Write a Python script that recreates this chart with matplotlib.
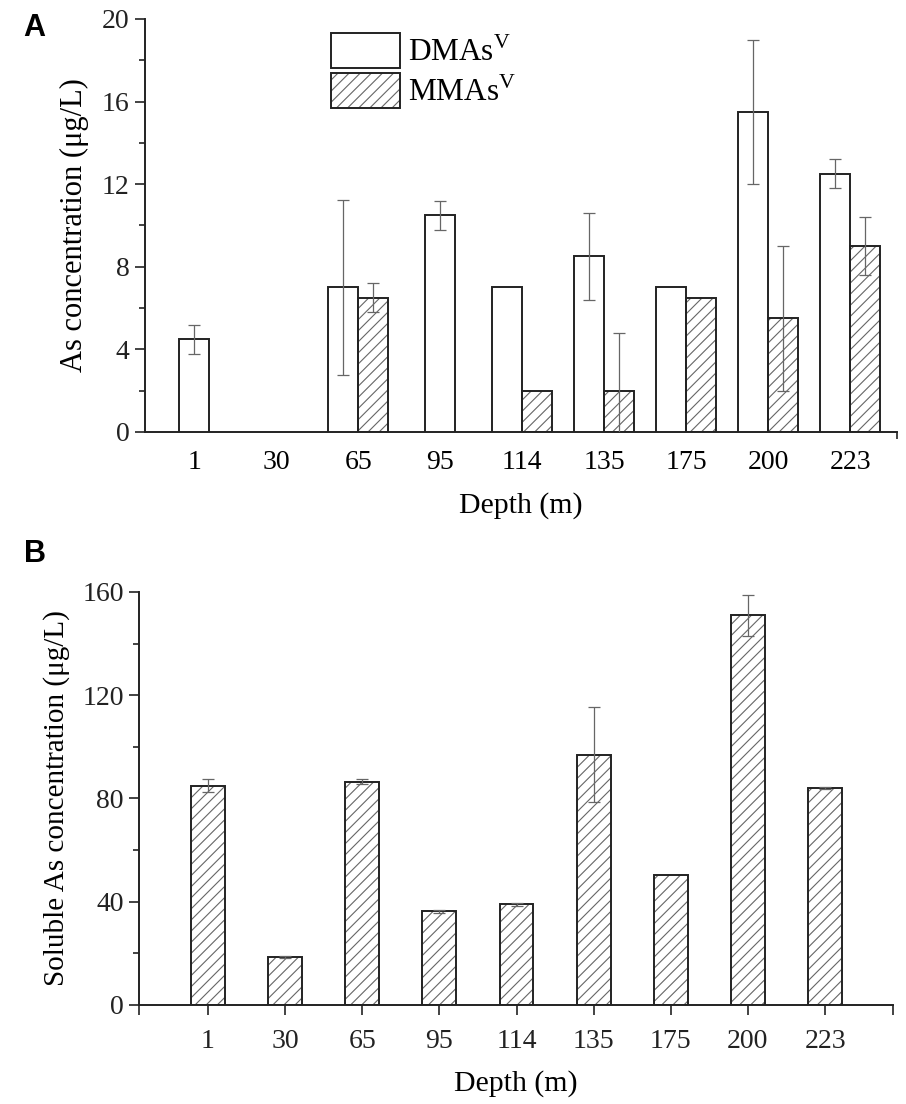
import numpy as np
import matplotlib
matplotlib.use("Agg")
import matplotlib.pyplot as plt
from matplotlib.patches import Patch
from matplotlib.legend_handler import HandlerTuple

plt.rcParams["font.family"] = ["Liberation Serif", "DejaVu Serif"]
plt.rcParams["mathtext.fontset"] = "custom"
plt.rcParams["mathtext.rm"] = "Liberation Serif"
plt.rcParams["hatch.linewidth"] = 0.8

depths = ["1", "30", "65", "95", "114", "135", "175", "200", "223"]

# panel A, nan = not detected
dmas = [4.5, np.nan, 7.0, 10.5, 7.0, 8.5, 7.0, 15.5, 12.5]
dmas_err = [0.7, np.nan, 4.25, 0.7, 0.0, 2.1, 0.0, 3.5, 0.7]
mmas = [np.nan, np.nan, 6.5, np.nan, 2.0, 2.0, 6.5, 5.5, 9.0]
mmas_err = [np.nan, np.nan, 0.7, np.nan, 0.0, 2.8, 0.0, 3.5, 1.4]

# panel B
soluble = [85.0, 18.5, 86.5, 36.3, 39.0, 97.0, 50.5, 151.0, 84.0]
soluble_err = [2.5, 0.3, 1.0, 0.5, 0.5, 18.5, 0.0, 8.0, 0.3]

EDGE = "#222222"
HATCH = "#666666"
ERR = "#666666"
TICK_FS = 20
LABEL_FS = 21.5


def hatched_bar(ax, x, h, w):
    ax.bar(x, h, w, color="white", edgecolor=HATCH, hatch="///", linewidth=0, zorder=2)
    ax.bar(x, h, w, color="none", edgecolor=EDGE, linewidth=1.4, zorder=3)


def style_axis(ax):
    for s in ["top", "right"]:
        ax.spines[s].set_visible(False)
    for s in ["left", "bottom"]:
        ax.spines[s].set_linewidth(1.4)
        ax.spines[s].set_color(EDGE)
    ax.tick_params(axis="y", which="major", direction="out", length=7, width=1.2,
                   labelsize=TICK_FS, pad=4, colors=EDGE)
    ax.tick_params(axis="y", which="minor", direction="out", length=4, width=1.2, colors=EDGE)
    ax.tick_params(axis="x", labelsize=TICK_FS)


fig = plt.figure(figsize=(9.06, 11.04), dpi=100)

# ---------- A ----------
ax1 = fig.add_axes([0.160, 0.6087, 0.830, 0.3741])
x = np.arange(len(depths))
w = 0.365
for i in range(len(depths)):
    d, m = dmas[i], mmas[i]
    if np.isnan(d) and np.isnan(m):
        continue
    if not np.isnan(m):
        xd, xm = x[i] - w / 2, x[i] + w / 2
    else:
        xd, xm = x[i], None
    ax1.bar(xd, d, w, color="white", edgecolor=EDGE, linewidth=1.4, zorder=3)
    if dmas_err[i] > 0:
        ax1.errorbar(xd, d, yerr=dmas_err[i], fmt="none", ecolor=ERR,
                     elinewidth=0.9, capsize=4, capthick=0.9, zorder=4)
    if xm is not None:
        hatched_bar(ax1, xm, m, w)
        if mmas_err[i] > 0:
            ax1.errorbar(xm, m, yerr=mmas_err[i], fmt="none", ecolor=ERR,
                         elinewidth=0.9, capsize=4, capthick=0.9, zorder=4)

ax1.set_xlim(-0.6, 8.57)
ax1.set_ylim(0, 20)
ax1.set_yticks([0, 4, 8, 12, 16, 20])
ax1.set_yticks(np.arange(2, 20, 4), minor=True)
ax1.set_xticks(x)
ax1.set_xticklabels(depths)
ax1.set_xticks([8.57], minor=True)
style_axis(ax1)
ax1.tick_params(axis="x", which="major", length=0, pad=13)
ax1.tick_params(axis="x", which="minor", length=5, width=1.2, colors=EDGE)
ax1.set_xlabel("Depth (m)", fontsize=LABEL_FS, labelpad=12)
ax1.set_ylabel("As concentration (μg/L)", fontsize=22, labelpad=9)

h_d = Patch(facecolor="white", edgecolor=EDGE, linewidth=1.4)
h_m1 = Patch(facecolor="white", edgecolor=HATCH, hatch="///", linewidth=0)
h_m2 = Patch(facecolor="none", edgecolor=EDGE, linewidth=1.4)
ax1.legend([h_d, (h_m1, h_m2)], ["DMAs$^\\mathrm{V}$", "MMAs$^\\mathrm{V}$"],
           handler_map={tuple: HandlerTuple(ndivide=1, pad=0)},
           loc="upper left", bbox_to_anchor=(331 / 906, 1 - 33 / 1104),
           bbox_transform=fig.transFigure, frameon=False, borderpad=0,
           borderaxespad=0, fontsize=22.5, handlelength=2.2, handleheight=1.35,
           handletextpad=0.25, labelspacing=0.17)

fig.text(0.026, 0.988, "A", fontsize=22, fontweight="bold",
         family="Liberation Sans", va="top", ha="left")

# ---------- B ----------
ax2 = fig.add_axes([0.1534, 0.0897, 0.8322, 0.3741])
wb = 0.44
for i in range(len(depths)):
    hatched_bar(ax2, x[i], soluble[i], wb)
    if soluble_err[i] > 0:
        ax2.errorbar(x[i], soluble[i], yerr=soluble_err[i], fmt="none", ecolor=ERR,
                     elinewidth=0.9, capsize=4, capthick=0.9, zorder=4)

ax2.set_xlim(-0.894, 8.88)
ax2.set_ylim(0, 160)
ax2.set_yticks([0, 40, 80, 120, 160])
ax2.set_yticks(np.arange(20, 160, 40), minor=True)
ax2.set_xticks(x)
ax2.set_xticklabels(depths)
ax2.set_xticks([-0.894, 8.88], minor=True)
style_axis(ax2)
ax2.tick_params(axis="x", which="major", direction="out", length=7, width=1.2,
                pad=10, colors=EDGE)
ax2.tick_params(axis="x", which="minor", direction="out", length=7, width=1.2, colors=EDGE)
ax2.set_xlabel("Depth (m)", fontsize=LABEL_FS, labelpad=12)
ax2.set_ylabel("Soluble As concentration (μg/L)", fontsize=21, labelpad=9)

fig.text(0.026, 0.512, "B", fontsize=22, fontweight="bold",
         family="Liberation Sans", va="top", ha="left")

fig.savefig("out.png", dpi=100)
